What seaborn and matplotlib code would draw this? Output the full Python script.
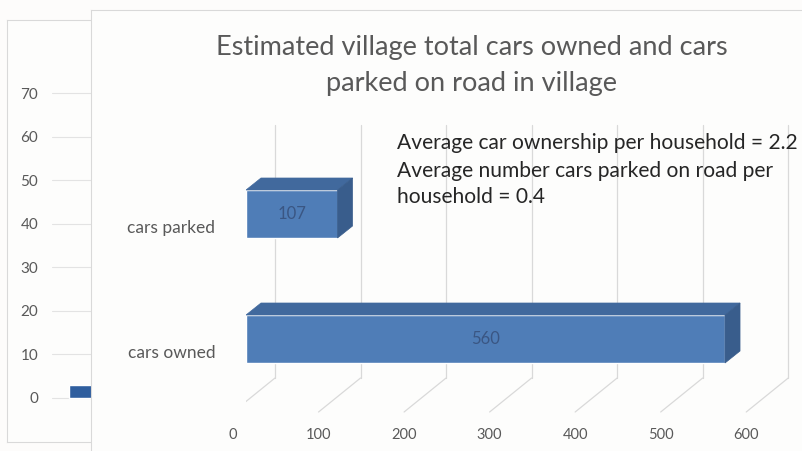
import numpy as np
import pandas as pd
import matplotlib
matplotlib.use("Agg")
import matplotlib.pyplot as plt
from matplotlib.patches import Polygon
from matplotlib.transforms import ScaledTranslation
import seaborn as sns

# ---- data -------------------------------------------------------------
categories = ["cars parked", "cars owned"]
car_counts = [107, 560]
x_ticks = [0, 100, 200, 300, 400, 500, 600]
side_series = ["Series1"]
side_values = [3]
side_ticks = [0, 10, 20, 30, 40, 50, 60, 70]
title_lines = ["Estimated village total cars owned and cars",
               "parked on road in village"]
note_lines = ["Average car ownership per household = 2.2",
              "Average number cars parked on road per",
              "household = 0.4"]

# ---- styling ----------------------------------------------------------
W, H, DPI = 803, 451, 100
FRONT = "#4F7DB7"
TOP = "#41699D"
SIDE = "#395D8C"
GRID = "#D9D9D9"
LABEL = "#595959"

sns.set_theme(style="white")
plt.rcParams["font.family"] = ["Lato", "DejaVu Sans"]

fig = plt.figure(figsize=(W / DPI, H / DPI), dpi=DPI, facecolor="#FDFCFB")


def rect(l, t, r, b):
    """Axes rectangle from pixel edges (origin top-left)."""
    return [l / W, 1 - b / H, (r - l) / W, (b - t) / H]


# ---- chart behind: small column chart --------------------------------
ax_bg = fig.add_axes(rect(7, 20, 95, 442))
ax_bg.set_facecolor("#FDFDFC")
ax_bg.set_xticks([])
ax_bg.set_yticks([])
for s in ax_bg.spines.values():
    s.set_color(GRID)
    s.set_linewidth(0.8)

ax_l = fig.add_axes(rect(52, 20, 91, 442))
ax_l.set_facecolor("none")
sns.barplot(x=side_series, y=side_values, color="#2F5E9E", saturation=1,
            width=0.8, ax=ax_l, zorder=3)
ax_l.set_xlim(-0.74, 0.04)
ax_l.set_ylim(-10.1, 86.76)
ax_l.set_yticks(side_ticks)
ax_l.yaxis.grid(True, color="#E3E3E3", lw=0.8)
ax_l.set_axisbelow(True)
ax_l.tick_params(axis="y", length=0, pad=10, labelsize=11, labelcolor=LABEL)
ax_l.set_xticks([])
ax_l.set_xlabel("")
ax_l.set_ylabel("")
for s in ax_l.spines.values():
    s.set_visible(False)

# ---- chart area of the 3-D bar chart ---------------------------------
ax_f = fig.add_axes(rect(91, 10, 803, 451))
ax_f.set_facecolor("#FDFDFC")
ax_f.set_xlim(0, 1)
ax_f.set_ylim(451, 10)
ax_f.set_xticks([])
ax_f.set_yticks(np.arange(42, 430, 31.65))
ax_f.tick_params(axis="y", direction="out", length=4, width=0.8,
                 color="#D0D0D0", labelleft=False)
for name, s in ax_f.spines.items():
    s.set_visible(name in ("left", "top"))
    s.set_color(GRID)
    s.set_linewidth(0.8)

# ---- 3-D bar chart ----------------------------------------------------
PX_TOP, PX_BOTTOM = 100, 424
XS = 0.8554           # pixels per car
YS = 125.0            # pixels per category step
ROW0 = 214            # pixel row of the first category centre


def py(p):
    return (p - ROW0) / YS


ax = fig.add_axes(rect(246, PX_TOP, 803, PX_BOTTOM))
ax.set_facecolor("none")
df = pd.DataFrame({"category": categories, "cars": car_counts})
sns.barplot(data=df, x="cars", y="category", orient="h", color=FRONT,
            saturation=1, width=0.384, ax=ax, zorder=2)
ax.set_xlim(0, (803 - 246) / XS)
ax.set_ylim(py(PX_BOTTOM), py(PX_TOP))

# back wall gridlines and floor lines
back, front = 29 / XS, -13 / XS
for v in x_ticks:
    ax.plot([v + back, v + back], [py(125), py(378)], color=GRID, lw=0.9, zorder=0.5)
    ax.plot([v + back, v + front], [py(378), py(412)], color=GRID, lw=0.9, zorder=0.5)

# depth faces of each bar
DX, DY = 15 / XS, 12 / YS
for patch in ax.patches:
    x0, y0 = patch.get_x(), patch.get_y()
    w, h = patch.get_width(), patch.get_height()
    top = [(x0, y0), (x0 + w, y0), (x0 + w + DX, y0 - DY), (x0 + DX, y0 - DY)]
    side = [(x0 + w, y0), (x0 + w + DX, y0 - DY),
            (x0 + w + DX, y0 + h - DY), (x0 + w, y0 + h)]
    ax.add_patch(Polygon(top, closed=True, fc=TOP, ec=TOP, lw=0.5, zorder=3))
    ax.add_patch(Polygon(side, closed=True, fc=SIDE, ec=SIDE, lw=0.5, zorder=3))

ax.bar_label(ax.containers[0], labels=[str(v) for v in car_counts],
             label_type="center", color="#3A5683", fontsize=12)

ax.set_xticks(x_ticks)
ax.set_xticklabels([str(v) for v in x_ticks])
ax.tick_params(axis="x", length=0, pad=3, labelsize=10.5, labelcolor=LABEL)
shift_x = ScaledTranslation(-13 / DPI, 0, fig.dpi_scale_trans)
for lab in ax.get_xticklabels():
    lab.set_transform(lab.get_transform() + shift_x)
ax.tick_params(axis="y", length=0, pad=22, labelsize=12.5, labelcolor=LABEL)
shift_y = ScaledTranslation(0, -12 / DPI, fig.dpi_scale_trans)
for lab in ax.get_yticklabels():
    lab.set_transform(lab.get_transform() + shift_y)
ax.set_xlabel("")
ax.set_ylabel("")
for s in ax.spines.values():
    s.set_visible(False)

# ---- title and note ---------------------------------------------------
for text, y in zip(title_lines, [47, 83]):
    fig.text(472 / W, 1 - y / H, text, ha="center", va="center",
             fontsize=19.5, color=LABEL)
for text, y in zip(note_lines, [143, 171, 197]):
    fig.text(397 / W, 1 - y / H, text, ha="left", va="center",
             fontsize=15.1, color="#262626")

fig.savefig("out.png", dpi=DPI, facecolor=fig.get_facecolor())
